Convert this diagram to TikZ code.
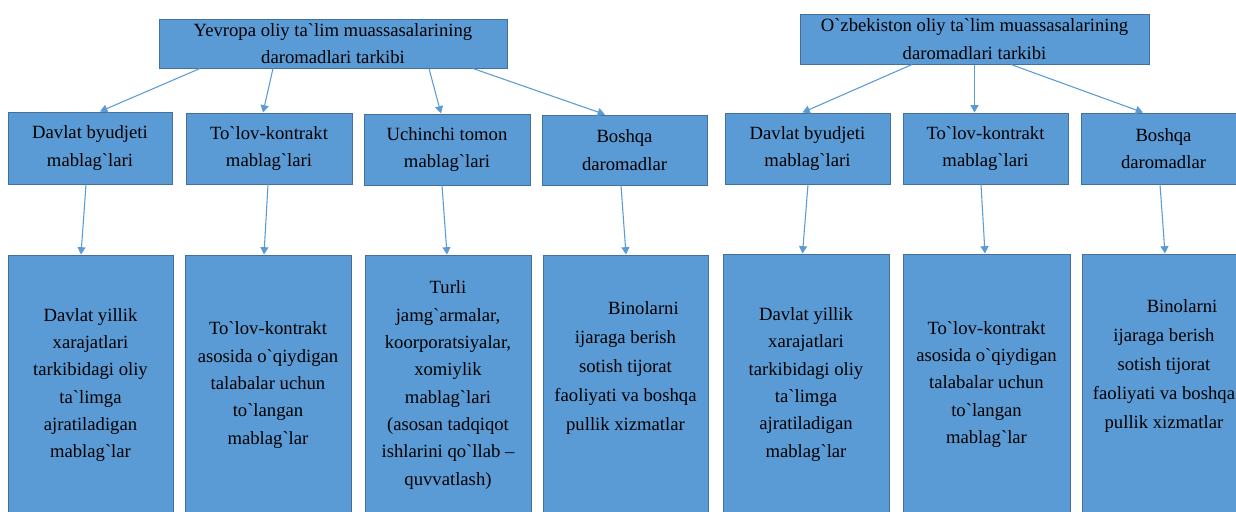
\documentclass[tikz,border=0pt]{standalone}
\usepackage{fontspec}
\setmainfont{Liberation Serif}[Ligatures=TeXReset]
\newfontfamily\tnr{Liberation Serif}[Ligatures=TeXReset]
\usetikzlibrary{calc,arrows.meta}
\definecolor{boxfill}{HTML}{5B9BD5}
\definecolor{boxline}{HTML}{41719C}
\definecolor{arrcol}{HTML}{5B9BD5}
\tikzset{
  box/.style={draw=boxline, fill=boxfill, line width=0.75pt, inner sep=0pt,
    align=center, text=black, font=\tnr\fontsize{14}{20.5}\selectfont},
  looser/.style={align=center, text=black, inner sep=0pt, font=\tnr\fontsize{14}{21.8}\selectfont},
  arr/.style={draw=arrcol, line width=0.8pt, -{Triangle[length=5.5pt,width=6pt]}},
}
\begin{document}
\begin{tikzpicture}[x=0.75pt,y=-0.75pt]
\useasboundingbox (0,0) rectangle (1236,511);
\fill[white] (0,0) rectangle (1236,511);
\clip (0,0) rectangle (1236,511);
% top boxes
\node[box, minimum width=261pt, minimum height=36.75pt] (T1) at (333,43.5)
  {Yevropa oliy ta`lim muassasalarining\\daromadlari tarkibi};
\node[box, minimum width=261.75pt, minimum height=37.5pt] (T2) at (974.5,39)
  {O`zbekiston oliy ta`lim muassasalarining\\daromadlari tarkibi};
% middle row, left
\node[box, minimum width=123pt, minimum height=54pt] (A1) at (90,148) {Davlat byudjeti\\mablag`lari};
\node[box, minimum width=124.5pt, minimum height=53.25pt] (A2) at (269,148.5) {To`lov-kontrakt\\mablag`lari};
\node[box, minimum width=124.5pt, minimum height=53.25pt] (A3) at (447,149.5) {Uchinchi tomon\\mablag`lari};
\node[box, minimum width=123.75pt, minimum height=52.5pt] (A4) at (624.5,150) {Boshqa\\daromadlar};
% middle row, right
\node[box, minimum width=123.75pt, minimum height=53.25pt] (B1) at (807.5,148.5) {Davlat byudjeti\\mablag`lari};
\node[box, minimum width=123.75pt, minimum height=53.25pt] (B2) at (985.5,148.5) {To`lov-kontrakt\\mablag`lari};
\node[box, minimum width=123.75pt, minimum height=53.25pt] (B3) at (1163.5,148.5) {Boshqa\\daromadlar};
% bottom row, left
\node[box, minimum width=123.75pt, minimum height=195pt] (C1) at (90.5,385)
  {Davlat yillik\\xarajatlari\\tarkibidagi oliy\\ta`limga\\ajratiladigan\\mablag`lar};
\node[box, minimum width=124.5pt, minimum height=195pt] (C2) at (268,385)
  {To`lov-kontrakt\\asosida o`qiydigan\\talabalar uchun\\to`langan\\mablag`lar};
\node[box, minimum width=124.5pt, minimum height=195pt] (C3) at (448,385)
  {Turli\\jamg`armalar,\\koorporatsiyalar,\\xomiylik\\mablag`lari\\(asosan tadqiqot\\ishlarini qo`llab –\\quvvatlash)};
\node[box, minimum width=123.75pt, minimum height=195pt] (C4) at (625.5,385) {};
\node[looser] (C4t) at (625.5,368)
  {\hspace*{27pt}Binolarni\\ijaraga berish\\sotish tijorat\\faoliyati va boshqa\\pullik xizmatlar};
% bottom row, right
\node[box, minimum width=124.5pt, minimum height=195.75pt] (D1) at (806,384.5)
  {Davlat yillik\\xarajatlari\\tarkibidagi oliy\\ta`limga\\ajratiladigan\\mablag`lar};
\node[box, minimum width=125.25pt, minimum height=195.75pt] (D2) at (986.5,384.5)
  {To`lov-kontrakt\\asosida o`qiydigan\\talabalar uchun\\to`langan\\mablag`lar};
\node[box, minimum width=123pt, minimum height=195.75pt] (D3) at (1164,384.5) {};
\node[looser] (D3t) at (1164,366)
  {\hspace*{27pt}Binolarni\\ijaraga berish\\sotish tijorat\\faoliyati va boshqa\\pullik xizmatlar};
% connectors, left
\draw[arr] ($(T1.south)+(-133,0)$) -- ($(A1.north)+(10,0)$);
\draw[arr] ($(T1.south)+(-60,0)$) -- ($(A2.north)+(-6,0)$);
\draw[arr] ($(T1.south)+(96,0)$) -- ($(A3.north)+(-6,0)$);
\draw[arr] ($(T1.south)+(140,0)$) -- ($(A4.north)+(-19.5,0)$);
\draw[arr] ($(A1.south)+(-4,0)$) -- ($(C1.north)+(-9.5,0)$);
\draw[arr] ($(A2.south)+(-1,0)$) -- ($(C2.north)+(-4,0)$);
\draw[arr] ($(A3.south)+(-5,0)$) -- ($(C3.north)+(-1,0)$);
\draw[arr] ($(A4.south)+(-3.5,0)$) -- ($(C4.north)+(0.5,0)$);
% connectors, right
\draw[arr] ($(T2.south)+(-62.5,0)$) -- ($(B1.north)+(-5,0)$);
\draw[arr] (T2.south) -- ($(B2.north)+(-11,0)$);
\draw[arr] ($(T2.south)+(36.5,0)$) -- ($(B3.north)+(-20.5,0)$);
\draw[arr] ($(B1.south)+(0.5,0)$) -- ($(D1.north)+(-3.5,0)$);
\draw[arr] ($(B2.south)+(-4.5,0)$) -- ($(D2.north)+(-1.5,0)$);
\draw[arr] ($(B3.south)+(-3.5,0)$) -- ($(D3.north)+(1,0)$);
\end{tikzpicture}
\end{document}
